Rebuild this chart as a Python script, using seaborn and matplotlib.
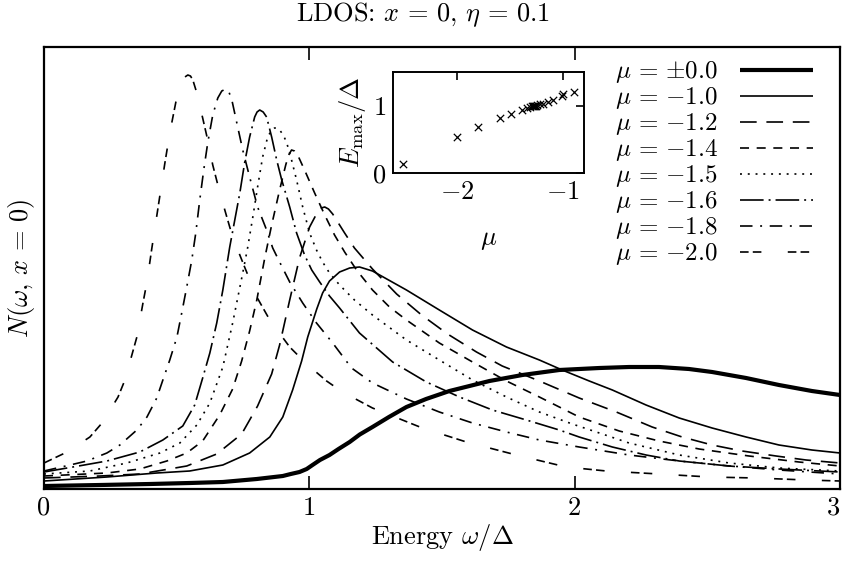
import numpy as np
import pandas as pd
import matplotlib
matplotlib.use("Agg")
import matplotlib.pyplot as plt
import seaborn as sns

# ---------------- data ----------------
mu_labels = [r"$\mu\,=\,{\pm 0.0}$", r"$\mu\,=\,{-1.0}$", r"$\mu\,=\,{-1.2}$", r"$\mu\,=\,{-1.4}$",
             r"$\mu\,=\,{-1.5}$", r"$\mu\,=\,{-1.6}$", r"$\mu\,=\,{-1.8}$", r"$\mu\,=\,{-2.0}$"]

w_mu00 = [0, 0.211, 0.399, 0.549, 0.674, 0.802, 0.900, 0.930, 0.963, 0.990, 1.012, 1.040, 1.076,
          1.110, 1.152, 1.190, 1.238, 1.300, 1.366, 1.440, 1.528, 1.679, 1.803, 1.942, 2.093,
          2.205, 2.318, 2.431, 2.518, 2.646, 2.770, 2.894, 3.0]
n_mu00 = [0.03, 0.04, 0.05, 0.06, 0.07, 0.10, 0.13, 0.15, 0.17, 0.20, 0.24, 0.29, 0.34,
          0.40, 0.47, 0.545, 0.62, 0.72, 0.82, 0.90, 0.98, 1.08, 1.14, 1.19, 1.21,
          1.22, 1.22, 1.20, 1.17, 1.11, 1.04, 0.98, 0.94]

w_mu10 = [0, 0.237, 0.425, 0.549, 0.674, 0.775, 0.851, 0.900, 0.937, 0.971, 0.994, 1.028, 1.050,
          1.076, 1.114, 1.152, 1.189, 1.238, 1.366, 1.490, 1.615, 1.743, 1.867, 1.953, 2.055,
          2.142, 2.269, 2.394, 2.518, 2.646, 2.770, 2.894, 3.0]
n_mu10 = [0.08, 0.12, 0.16, 0.18, 0.24, 0.36, 0.52, 0.72, 0.99, 1.28, 1.52, 1.80, 1.96,
          2.08, 2.17, 2.21, 2.22, 2.18, 1.99, 1.79, 1.59, 1.42, 1.29, 1.19, 1.08,
          0.99, 0.84, 0.71, 0.61, 0.52, 0.44, 0.39, 0.36]

w_mu12 = [0, 0.211, 0.361, 0.538, 0.651, 0.745, 0.805, 0.858, 0.888, 0.926, 0.963, 1.001, 1.031,
          1.045, 1.058, 1.072, 1.088, 1.133, 1.170, 1.238, 1.329, 1.423, 1.521, 1.630, 1.727,
          1.867, 2.017, 2.157, 2.292, 2.405, 2.518, 2.631, 2.759, 2.872, 3.0]
n_mu12 = [0.11, 0.13, 0.15, 0.23, 0.35, 0.55, 0.83, 1.15, 1.44, 1.89, 2.31, 2.62, 2.77,
          2.81, 2.82, 2.80, 2.75, 2.56, 2.41, 2.20, 1.95, 1.74, 1.55, 1.37, 1.23,
          1.08, 0.91, 0.77, 0.62, 0.52, 0.44, 0.38, 0.33, 0.29, 0.26]

w_mu14 = [0, 0.237, 0.361, 0.463, 0.538, 0.598, 0.662, 0.711, 0.745, 0.775, 0.802, 0.832, 0.858,
          0.888, 0.911, 0.922, 0.933, 0.944, 0.956, 0.982, 1.020, 1.058, 1.095, 1.133, 1.178,
          1.238, 1.302, 1.366, 1.490, 1.615, 1.743, 1.867, 2.017, 2.168, 2.318, 2.469, 2.657,
          2.845, 3.0]
n_mu14 = [0.13, 0.16, 0.20, 0.28, 0.36, 0.48, 0.74, 1.00, 1.28, 1.58, 1.89, 2.31, 2.64,
          2.99, 3.24, 3.34, 3.39, 3.38, 3.34, 3.19, 2.96, 2.74, 2.54, 2.37, 2.19,
          1.99, 1.82, 1.69, 1.46, 1.27, 1.08, 0.92, 0.72, 0.58, 0.48, 0.40, 0.33,
          0.27, 0.23]

w_mu15 = [0, 0.173, 0.312, 0.437, 0.512, 0.576, 0.625, 0.674, 0.711, 0.749, 0.768, 0.787, 0.805,
          0.824, 0.843, 0.856, 0.869, 0.878, 0.888, 0.902, 0.915, 0.933, 0.952, 0.975, 1.001,
          1.027, 1.050, 1.076, 1.114, 1.170, 1.238, 1.366, 1.490, 1.615, 1.743, 1.867, 1.991,
          2.093, 2.205, 2.394, 2.582, 2.770, 3.0]
n_mu15 = [0.15, 0.18, 0.26, 0.36, 0.46, 0.64, 0.86, 1.22, 1.66, 2.16, 2.42, 2.72, 3.02,
          3.32, 3.52, 3.58, 3.61, 3.61, 3.59, 3.54, 3.46, 3.29, 3.09, 2.82, 2.56,
          2.39, 2.27, 2.16, 2.04, 1.89, 1.74, 1.49, 1.29, 1.09, 0.92, 0.77, 0.65,
          0.56, 0.46, 0.34, 0.26, 0.21, 0.18]

w_mu16 = [0, 0.109, 0.237, 0.361, 0.448, 0.523, 0.568, 0.598, 0.625, 0.651, 0.674, 0.700, 0.738,
          0.756, 0.775, 0.794, 0.803, 0.813, 0.826, 0.839, 0.858, 0.877, 0.896, 0.926, 0.952,
          0.982, 1.009, 1.039, 1.076, 1.114, 1.189, 1.314, 1.441, 1.566, 1.690, 1.818, 1.942,
          2.017, 2.142, 2.269, 2.394, 2.582, 2.770, 3.0]
n_mu16 = [0.17, 0.22, 0.28, 0.37, 0.49, 0.63, 0.84, 1.11, 1.36, 1.66, 1.99, 2.42, 2.96,
          3.26, 3.52, 3.72, 3.77, 3.79, 3.77, 3.72, 3.52, 3.29, 3.09, 2.82, 2.56,
          2.34, 2.19, 2.07, 1.93, 1.81, 1.56, 1.27, 1.07, 0.92, 0.79, 0.69, 0.59,
          0.52, 0.42, 0.34, 0.28, 0.23, 0.20, 0.17]

w_mu18 = [0, 0.098, 0.162, 0.237, 0.286, 0.350, 0.388, 0.425, 0.448, 0.474, 0.501, 0.519, 0.538,
          0.557, 0.572, 0.587, 0.602, 0.617, 0.636, 0.655, 0.670, 0.685, 0.697, 0.708, 0.730,
          0.749, 0.775, 0.805, 0.839, 0.862, 0.888, 0.926, 0.975, 1.027, 1.088, 1.159, 1.238,
          1.366, 1.490, 1.615, 1.743, 1.867, 2.017, 2.205, 2.394, 2.582, 2.770, 3.0]
n_mu18 = [0.18, 0.24, 0.28, 0.36, 0.44, 0.59, 0.72, 0.91, 1.09, 1.29, 1.52, 1.76, 2.02,
          2.29, 2.56, 2.89, 3.19, 3.46, 3.74, 3.91, 3.98, 4.00, 3.97, 3.89, 3.62,
          3.39, 3.12, 2.82, 2.59, 2.41, 2.27, 2.07, 1.86, 1.66, 1.46, 1.21, 1.06,
          0.90, 0.77, 0.66, 0.57, 0.49, 0.42, 0.34, 0.28, 0.23, 0.19, 0.15]

w_mu20 = [0, 0.087, 0.173, 0.222, 0.279, 0.305, 0.350, 0.373, 0.388, 0.406, 0.429, 0.455, 0.474,
          0.497, 0.519, 0.531, 0.542, 0.552, 0.561, 0.576, 0.598, 0.617, 0.636, 0.662, 0.689,
          0.711, 0.756, 0.802, 0.851, 0.926, 0.990, 1.065, 1.125, 1.238, 1.426, 1.592, 1.780,
          1.968, 2.119, 2.318, 2.507, 2.683, 2.872, 3.0]
n_mu20 = [0.26, 0.37, 0.52, 0.67, 0.92, 1.09, 1.52, 1.86, 2.07, 2.40, 2.80, 3.25, 3.56,
          3.87, 4.06, 4.12, 4.14, 4.13, 4.09, 3.96, 3.71, 3.49, 3.24, 2.97, 2.72,
          2.52, 2.22, 1.92, 1.69, 1.42, 1.25, 1.08, 0.97, 0.81, 0.61, 0.47, 0.34,
          0.22, 0.18, 0.15, 0.12, 0.11, 0.09, 0.08]

# inset: energy of the maximum vs chemical potential
inset_mu = [-2.51, -2.0, -1.8, -1.59, -1.49, -1.39, -1.34, -1.31, -1.29, -1.28, -1.27, -1.26,
            -1.25, -1.24, -1.22, -1.19, -1.14, -1.09, -1.01, -1.0, -0.89]
inset_emax = [0.13, 0.53, 0.68, 0.81, 0.875, 0.93, 0.96, 0.98, 0.99, 1.0, 1.0, 1.0,
              0.99, 1.01, 1.02, 1.03, 1.05, 1.08, 1.15, 1.17, 1.21]

# ---------------- style ----------------
sns.set_theme(style="white")
plt.rcParams.update({
    "font.family": "serif",
    "font.serif": ["cmr10"],
    "mathtext.fontset": "cm",
    "axes.formatter.use_mathtext": True,
    "lines.scale_dashes": False,
    "axes.edgecolor": "black",
    "text.color": "black",
    "axes.labelcolor": "black",
    "xtick.color": "black",
    "ytick.color": "black",
})

FS = 19
LEG_FS = 18
curves = [
    (w_mu00, n_mu00, 3.0, None),
    (w_mu10, n_mu10, 1.2, None),
    (w_mu12, n_mu12, 1.2, (12, 7)),
    (w_mu14, n_mu14, 1.2, (6.5, 5.5)),
    (w_mu15, n_mu15, 1.2, (1.4, 4.2)),
    (w_mu16, n_mu16, 1.2, (17, 3.6, 1.4, 3.6)),
    (w_mu18, n_mu18, 1.2, (9, 5.5, 1.4, 5.5)),
    (w_mu20, n_mu20, 1.2, (6.2, 3.0, 6.2, 19)),
]

fig = plt.figure(figsize=(8.45, 5.66), dpi=100)
ax = fig.add_axes([44 / 845, 77 / 566, 796 / 845, 442 / 566])

handles = []
for (w, n, lw, dash), lab in zip(curves, mu_labels):
    df = pd.DataFrame({"omega": w, "N": n})
    sns.lineplot(data=df, x="omega", y="N", ax=ax, color="black", linewidth=lw,
                 errorbar=None, sort=False, legend=False)
    ln = ax.get_lines()[-1]
    if dash is not None:
        ln.set_dashes(dash)
    ln.set_solid_capstyle("butt")
    ln.set_solid_joinstyle("round")
    handles.append(ln)

ax.set_xlim(0, 3)
ax.set_ylim(0, 4.42)
ax.set_xticks([0, 1, 2, 3])
ax.set_xticklabels(["0", "1", "2", "3"])
ax.get_xticklabels()[-1].set_horizontalalignment("right")
ax.set_yticks([])
ax.tick_params(axis="x", direction="in", length=9.5, width=1.2, top=True, bottom=True,
               labelsize=FS, pad=5)
for sp in ax.spines.values():
    sp.set_linewidth(1.6)
    sp.set_color("black")
ax.set_xlabel(r"Energy $\omega/\Delta$", fontsize=FS, labelpad=2)
ax.set_ylabel(r"$N(\omega,\, x\,=\,0)$", fontsize=FS, labelpad=5)
fig.text(0.5, 1 - 15 / 566, r"LDOS: $x\,=\,0$, $\eta\,=\,0.1$", fontsize=FS,
         ha="center", va="center")

leg = ax.legend(handles, mu_labels, loc="upper right", bbox_to_anchor=(0.966, 0.972),
                frameon=False, markerfirst=False, handlelength=2.9, handletextpad=0.9,
                labelspacing=0.0, borderpad=0, borderaxespad=0, fontsize=LEG_FS)

# ---------------- inset ----------------
axi = fig.add_axes([393 / 845, (566 - 173) / 566, 191 / 845, 101 / 566])
sns.scatterplot(x=inset_mu, y=inset_emax, ax=axi, marker="x", color="black", s=28,
                linewidth=0.9, legend=False)
axi.set_xlim(-2.604, -0.80)
axi.set_ylim(0, 1.5)
axi.set_xticks([-2, -1])
axi.set_yticks([0, 1])
axi.tick_params(direction="in", length=6, width=1.2, top=True, right=True,
                labelsize=FS, pad=5)
for sp in axi.spines.values():
    sp.set_linewidth(1.4)
    sp.set_color("black")
axi.set_xlabel(r"$\mu$", fontsize=FS, labelpad=18)
axi.set_ylabel(r"$E_\mathrm{max}/\Delta$", fontsize=FS, labelpad=3)

fig.savefig("out.png", dpi=100)
